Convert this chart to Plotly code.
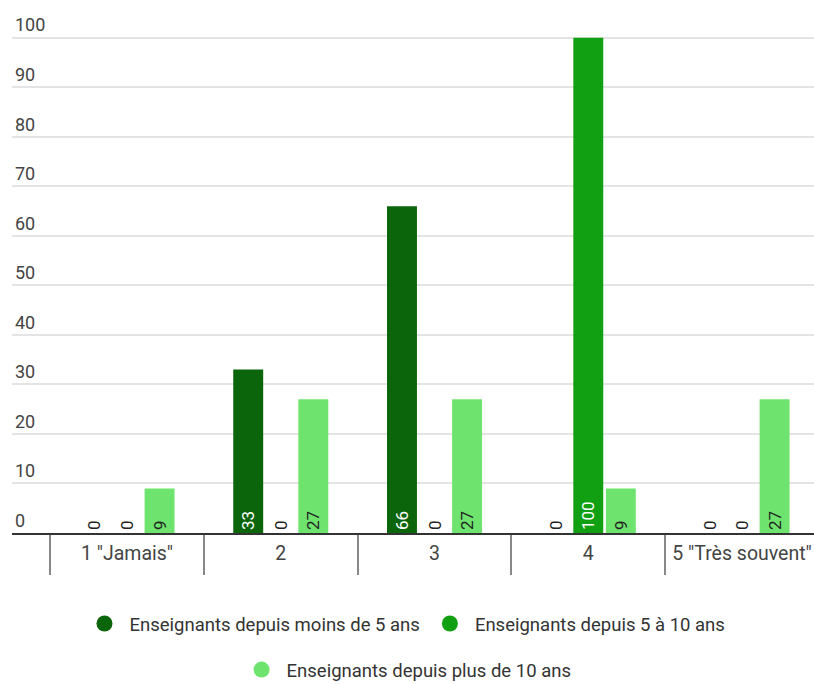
import plotly.graph_objects as go

categories = ['1 "Jamais"', "2", "3", "4", '5 "Très souvent"']
series_names = [
    "Enseignants depuis moins de 5 ans",
    "Enseignants depuis 5 à 10 ans",
    "Enseignants depuis plus de 10 ans",
]
moins_5 = [0, 33, 66, 0, 0]
de_5_a_10 = [0, 0, 0, 100, 0]
plus_10 = [9, 27, 27, 9, 27]
y_ticks = [0, 10, 20, 30, 40, 50, 60, 70, 80, 90, 100]

colors = ["#0b650b", "#11a011", "#6ee46e"]
inside_text_colors = ["#ffffff", "#ffffff", "#222222"]
series_values = [moins_5, de_5_a_10, plus_10]

fig = go.Figure()
for name, vals, col, tcol in zip(series_names, series_values, colors, inside_text_colors):
    fig.add_trace(go.Bar(
        x=categories, y=vals, name=name, marker=dict(color=col, line=dict(width=0)),
        text=[str(v) for v in vals],
        textposition=["inside" if v > 0 else "outside" for v in vals],
        insidetextanchor="start", textangle=-90, constraintext="none",
        insidetextfont=dict(family="Roboto", size=17, color=tcol),
        outsidetextfont=dict(family="Roboto", size=17, color="#222222"),
        cliponaxis=False, showlegend=False, hoverinfo="skip",
    ))

# legend entries (circle markers)
for i, (name, col) in enumerate(zip(series_names, colors)):
    fig.add_trace(go.Scatter(
        x=[None], y=[None], mode="markers", name=name,
        marker=dict(symbol="circle", color=col, size=20),
        legend="legend" if i < 2 else "legend2",
    ))

fig.update_layout(
    width=814, height=684,
    margin=dict(l=12, r=0, t=13, b=151, autoexpand=False),
    paper_bgcolor="white", plot_bgcolor="white",
    barmode="group", bargap=0.365, bargroupgap=0.08,
    font=dict(family="Roboto", color="#444444"),
    xaxis=dict(
        type="category", range=[-0.748, 4.468], automargin=False,
        showline=True, linecolor="#333333", linewidth=2,
        showgrid=False, tickson="boundaries", ticks="outside", ticklen=40,
        tickcolor="#888888", tickwidth=1.5,
        tickfont=dict(family="Roboto", size=19.5, color="#444444"),
        ticklabelstandoff=2, fixedrange=True,
    ),
    yaxis=dict(
        range=[0, 105], tickvals=y_ticks, ticktext=[str(t) for t in y_ticks],
        automargin=False,
        showgrid=True, gridcolor="#e4e4e4", gridwidth=1.5,
        zeroline=False, showline=False, ticks="",
        ticklabelposition="inside top",
        tickfont=dict(family="Roboto", size=18, color="#444444"),
        fixedrange=True,
    ),
    legend=dict(
        orientation="h", x=0.49, xanchor="center", y=-0.175, yanchor="middle",
        font=dict(family="Roboto", size=18.5, color="#333333"),
        itemsizing="trace", itemwidth=40, bgcolor="rgba(0,0,0,0)",
    ),
    legend2=dict(
        orientation="h", x=0.492, xanchor="center", y=-0.2635, yanchor="middle",
        font=dict(family="Roboto", size=18.5, color="#333333"),
        itemsizing="trace", itemwidth=40, bgcolor="rgba(0,0,0,0)",
    ),
)

fig.write_html(
    "out.html",
    config={"displayModeBar": False},
    post_script="document.body.style.margin='0';document.body.style.overflow='hidden';",
)
